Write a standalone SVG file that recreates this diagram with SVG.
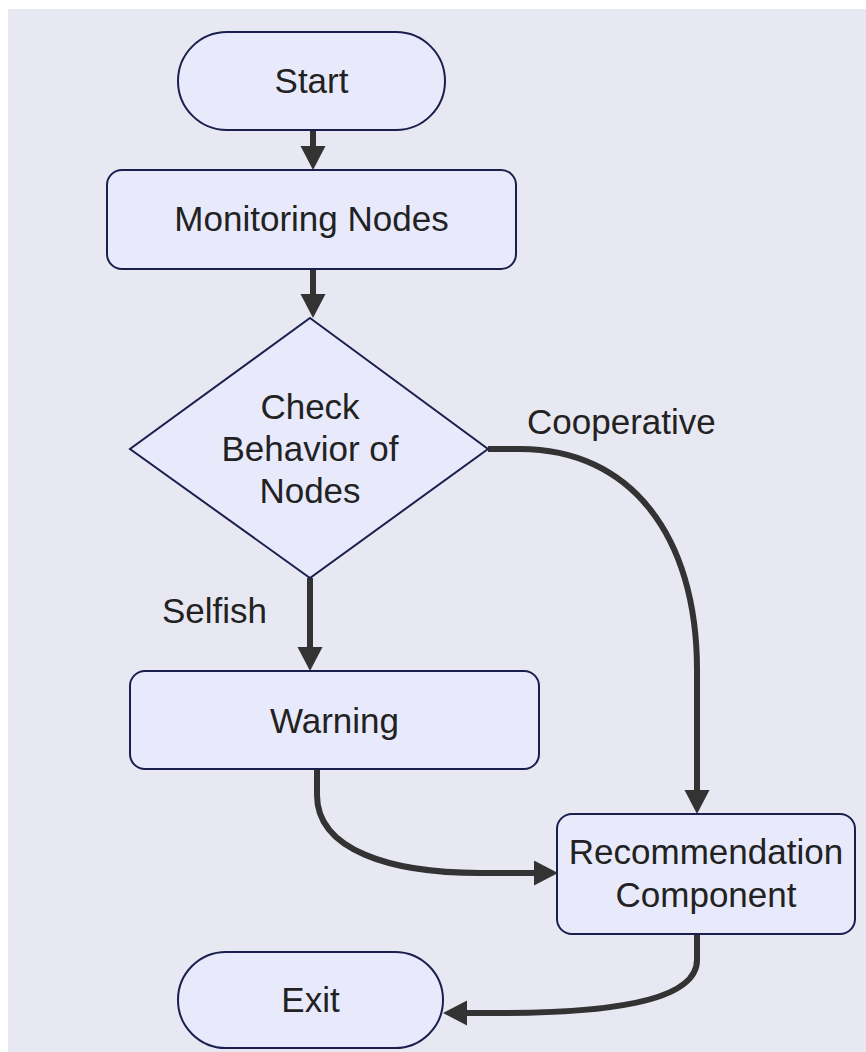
<svg xmlns="http://www.w3.org/2000/svg" width="866" height="1052" viewBox="0 0 866 1052">
<defs>
<style>
.node{fill:#e8eafc;stroke:#1a1f4e;stroke-width:2}
.t{font-family:"Liberation Sans",Arial,sans-serif;font-size:35px;fill:#222;text-anchor:middle}
.lbl{font-family:"Liberation Sans",Arial,sans-serif;font-size:35px;fill:#222}
.edge{fill:none;stroke:#333;stroke-width:6}
</style>
<marker id="arr" markerUnits="userSpaceOnUse" markerWidth="26" markerHeight="26" refX="4" refY="12.5" orient="auto">
<path d="M0,0 L24,12.5 L0,25 z" fill="#333"/>
</marker>
</defs>
<rect x="8" y="9" width="858" height="1043" fill="#e8e8f3"/>
<g id="connectors">
<path class="edge" d="M313,130 L313,150" marker-end="url(#arr)"/>
<path class="edge" d="M313,269 L313,298" marker-end="url(#arr)"/>
<path class="edge" d="M310,578 L310,651" marker-end="url(#arr)"/>
<path class="edge" d="M488,449 L520,449 C630,449 697,535 697,670 L697,794" marker-end="url(#arr)"/>
<path class="edge" d="M317,769 L317,795 C317,850 390,873 480,873 L538,873" marker-end="url(#arr)"/>
<path class="edge" d="M697,934 L697,960 C697,1003 600,1013 500,1013 L463,1013" marker-end="url(#arr)"/>
</g>
<g id="label-cooperative"><text class="lbl" x="527" y="434">Cooperative</text></g>
<g id="label-selfish"><text class="lbl" x="162" y="623">Selfish</text></g>
<g id="start">
<rect class="node" x="178" y="32" width="267" height="98" rx="49" ry="49"/>
<text class="t" x="311.5" y="93">Start</text>
</g>
<g id="monitoring">
<rect class="node" x="107" y="170" width="409" height="99" rx="15" ry="15"/>
<text class="t" x="311.5" y="231">Monitoring Nodes</text>
</g>
<g id="check">
<polygon class="node" points="310,318 488,449 310,578 130,449"/>
<text class="t" x="310" y="419">Check</text>
<text class="t" x="310" y="461">Behavior of</text>
<text class="t" x="310" y="503">Nodes</text>
</g>
<g id="warning">
<rect class="node" x="130" y="671" width="409" height="98" rx="15" ry="15"/>
<text class="t" x="334.5" y="733">Warning</text>
</g>
<g id="recommendation">
<rect class="node" x="557" y="814" width="298" height="120" rx="15" ry="15"/>
<text class="t" x="706" y="864">Recommendation</text>
<text class="t" x="706" y="907">Component</text>
</g>
<g id="exit">
<rect class="node" x="178" y="952" width="265" height="96" rx="48" ry="48"/>
<text class="t" x="310.5" y="1012">Exit</text>
</g>
</svg>
